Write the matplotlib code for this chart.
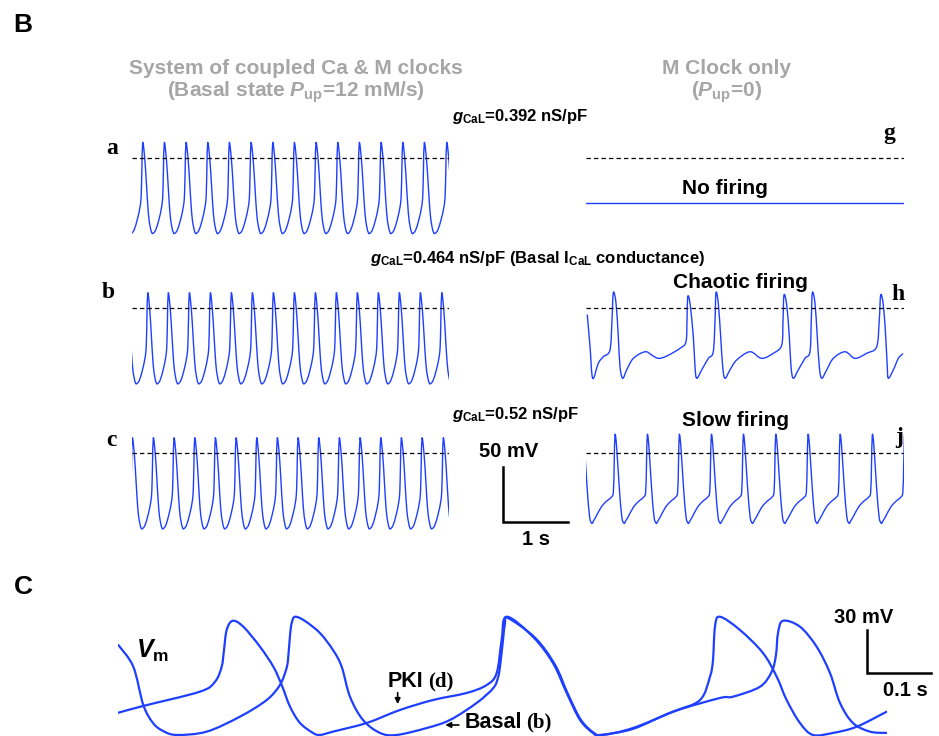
import numpy as np
import matplotlib
matplotlib.use("Agg")
import matplotlib.pyplot as plt
from matplotlib.path import Path
from matplotlib.patches import PathPatch

plt.rcParams["font.family"] = ["Liberation Sans", "DejaVu Sans"]
plt.rcParams["font.weight"] = "bold"
plt.rcParams["mathtext.fontset"] = "custom"
plt.rcParams["mathtext.rm"] = "Liberation Sans:bold"
plt.rcParams["mathtext.it"] = "Liberation Sans:bold:italic"
plt.rcParams["mathtext.bf"] = "Liberation Sans:bold"

# ─── DATA ─────────────────────────────────────────────────────────────────────
# spike peak times (s) for the periodic traces
PEAKS_A = [0.165, 0.497, 0.831, 1.165, 1.497, 1.831, 2.165, 2.497, 2.831,
           3.165, 3.497, 3.831, 4.165, 4.497, 4.842]
PEAKS_B = [0.242, 0.558, 0.882, 1.205, 1.528, 1.851, 2.174, 2.497, 2.820,
           3.143, 3.466, 3.789, 4.112, 4.435, 4.765]
PEAKS_C = [0.005, 0.328, 0.646, 0.965, 1.282, 1.600, 1.918, 2.235, 2.554,
           2.872, 3.189, 3.508, 3.826, 4.143, 4.462, 4.789]
PEAKS_J = [0.446, 0.943, 1.435, 1.928, 2.420, 2.918, 3.415, 3.908, 4.405]

# one cycle of the AP (phase from peak to next peak, mV)
LEFT_PHASE = [0.0, 0.10, 0.18, 0.26, 0.34, 0.42, 0.48, 0.60, 0.75, 0.88, 0.93, 0.96, 1.0]
LEFT_MV    = [14, -2, -26, -50, -62, -68, -68.5, -65.5, -56, -44, -33.6, -11, 14]
J_PHASE = [0.0, 0.05, 0.13, 0.21, 0.28, 0.34, 0.41, 0.57, 0.72, 0.88, 0.95, 0.975, 1.0]
J_MV    = [16.6, 6, -30, -57.6, -63.6, -61, -57.6, -49, -44, -40, -35, -10, 16.6]

# chaotic firing (M clock only, basal gCaL)
H_T = [0.020, 0.062, 0.103, 0.189, 0.266, 0.369, 0.400, 0.420, 0.462, 0.497, 0.523,
       0.565, 0.626, 0.728, 0.908, 1.011, 1.112, 1.242, 1.446, 1.538, 1.554, 1.565,
       1.600, 1.651, 1.677, 1.703, 1.780, 1.882, 1.958, 1.985, 2.000, 2.035, 2.072,
       2.103, 2.138, 2.215, 2.318, 2.523, 2.703, 2.882, 3.011, 3.031, 3.046, 3.088,
       3.128, 3.154, 3.189, 3.266, 3.369, 3.446, 3.466, 3.482, 3.523, 3.558, 3.589,
       3.626, 3.703, 3.805, 3.985, 4.138, 4.318, 4.472, 4.512, 4.534, 4.574, 4.611,
       4.635, 4.651, 4.728, 4.805, 4.872]
H_MV = [-6.1, -34.9, -63.6, -50, -44, -37.9, -10.6, 14.2, 4.5, -25.8, -53,
        -63.6, -56, -45.5, -39.5, -42.5, -45.5, -43.4, -36.4, -30.4, -10.6, 10.5,
        4.5, -25.8, -53, -63.6, -56, -45.5, -39.5, -10.6, 14.2, 4.5, -25.8,
        -53, -63.6, -56, -47, -39.5, -45.5, -40.9, -33.4, -10.6, 12.1, 3,
        -25.8, -53, -63.6, -56, -45.5, -39.5, -10.6, 14.2, 4.5, -25.8, -53,
        -63.6, -56, -45.5, -39.5, -45.5, -40.9, -34.9, -10.6, 12.1, 3, -25.8,
        -53, -63.6, -56, -45.5, -41.5]

# no firing
G_T = [0.0, 4.892]
G_MV = [-41, -41]

# panel C: basal vs PKI (ms, mV)
BASAL_MS = [0.5, 23.9, 39.5, 54.7, 70.3, 91.7, 138.6, 190.6, 232.3, 253, 262.5, 265.6,
            268.8, 271.4, 276.6, 292, 315.6, 336, 349.5, 362.5, 382.8, 409.4, 435.5,
            482.3, 518.8, 560.5, 586.4, 593.8, 596.9, 601.6, 604.7, 609.4, 652, 683,
            703, 723.4, 743.8, 757.8, 804.7, 867.2, 909.4, 925, 929.7, 932.8, 940.6,
            971.9, 1007.8, 1029.2, 1044.8, 1065.6, 1085.9, 1117.2, 1154.2, 1201]
BASAL_MV = [-2.7, -17.7, -44.2, -56.7, -62.2, -65, -62.7, -52.3, -40.8, -30.4, -20, -13.1,
            4.2, 12.5, 16.9, 14, 5.6, -6.2, -17.7, -38.5, -54.6, -63.6, -65,
            -60.2, -54.6, -42.8, -32.5, -25.2, -17.7, 0.8, 12.5, 16, 2.2, -16.5,
            -36.6, -54.6, -63.6, -65, -60.2, -48.9, -40.8, -24.6, -13.1, 10, 16.9,
            7.7, -8.2, -24.6, -40.8, -56.7, -65, -63.6, -59.3, -48.9]
PKI_MS = [0.5, 39.5, 128.1, 151.6, 162, 165.6, 169.8, 179.2, 195.8, 221.9, 242.7, 255.8,
          268.8, 284.4, 304.7, 315.6, 336, 388.6, 440.6, 492.2, 544.8, 576.1, 591.7,
          599.5, 607.3, 648.4, 679.7, 701.1, 721.9, 742.2, 753.1, 804.7, 867.2, 940.6,
          960.9, 1003.1, 1021.4, 1028.1, 1031.3, 1039.1, 1065.6, 1091.7, 1112.5, 1128.1,
          1148.4, 1175, 1201]
PKI_MV = [-49.6, -44.9, -35, -28.1, -17.7, -6.2, 7.7, 14.1, 10, -3.9, -17.7, -30.4,
          -45.4, -56.7, -63.6, -65, -62.7, -56.7, -47.7, -40.8, -35.9, -30.4, -22.1,
          0.8, 16.9, 3, -15.2, -35.9, -54.6, -63.6, -65, -60.8, -48.9, -39.4,
          -38.5, -31.6, -21.2, -9.6, 5.6, 14.1, 10, -3.9, -22.1, -42.8,
          -56.7, -62.7, -63.6]

BLUE = "#1f3fff"
GRAY = "#a6a6a6"
W, H = 939, 736


def px_axes(fig, x0, x1, y0, y1):
    ax = fig.add_axes([x0 / W, 1 - y1 / H, (x1 - x0) / W, (y1 - y0) / H])
    ax.set_axis_off()
    return ax


def spike_train(peaks, phase, volts):
    peaks = np.asarray(peaks, float)
    per = np.diff(peaks).mean()
    edges = np.concatenate([[peaks[0] - per], peaks, [peaks[-1] + per]])
    t, v = [], []
    for a, b in zip(edges[:-1], edges[1:]):
        t.extend(a + np.asarray(phase[:-1]) * (b - a))
        v.extend(volts[:-1])
    t.append(edges[-1])
    v.append(volts[-1])
    return np.array(t), np.array(v)


def smooth_line(ax, x, y, **kw):
    # Catmull-Rom drawn as bezier path: passes through every read point
    p = np.column_stack([x, y]).astype(float)
    verts, codes = [p[0]], [Path.MOVETO]
    for i in range(len(p) - 1):
        p0 = p[i - 1] if i > 0 else p[i]
        p3 = p[i + 2] if i + 2 < len(p) else p[i + 1]
        verts += [p[i] + (p[i + 1] - p0) / 6, p[i + 1] - (p3 - p[i]) / 6, p[i + 1]]
        codes += [Path.CURVE4] * 3
    ax.add_patch(PathPatch(Path(verts, codes), fill=False, capstyle="round",
                           joinstyle="round", **kw))


def trace_axes(fig, x0, x1, y_zero):
    # 65 px per s, 1.1 px per mV, dashed line at 0 mV
    ax = px_axes(fig, x0, x1, y_zero - 30 * 1.1, y_zero + 80 * 1.1)
    ax.set_xlim(0, (x1 - x0) / 65)
    ax.set_ylim(-80, 30)
    ax.axhline(0, color="black", lw=0.9, ls=(0, (3.5, 2.5)))
    return ax


fig = plt.figure(figsize=(W / 100, H / 100), dpi=100)

def ftext(x, y, s, **kw):
    kw.setdefault("ha", "center")
    kw.setdefault("va", "center")
    fig.text(x / W, 1 - y / H, s, **kw)

# ─── Panel B ──────────────────────────────────────────────────────────────────
ftext(23, 25, "B", fontsize=19)
ftext(296, 68, "System of coupled Ca & M clocks", fontsize=15, color=GRAY)
ftext(296, 92, r"(Basal state $P_{\mathrm{up}}$=12 mM/s)", fontsize=15, color=GRAY)
ftext(727, 68, "M Clock only", fontsize=15, color=GRAY)
ftext(727, 92, r"($P_{\mathrm{up}}$=0)", fontsize=15, color=GRAY)

ftext(452, 116, r"$g_{\mathrm{CaL}}$=0.392 nS/pF", fontsize=12, ha="left")
ftext(370, 259, r"$g_{\mathrm{CaL}}$=0.464 nS/pF (Basal I$_{\mathrm{CaL}}$ conductance)",
      fontsize=12, ha="left")
ftext(452, 415, r"$g_{\mathrm{CaL}}$=0.52 nS/pF", fontsize=12, ha="left")

ftext(725, 188, "No firing", fontsize=15)
ftext(740, 283, "Chaotic firing", fontsize=15)
ftext(735, 420, "Slow firing", fontsize=15)

serif = dict(family="Liberation Serif", fontsize=17, fontweight="bold")
ftext(112, 148, "a", **serif)
ftext(108, 293, "b", **serif)
ftext(111, 440, "c", **serif)
ftext(889, 134, "g", **serif)
ftext(898, 295, "h", **serif)
ftext(899, 437, "j", **serif)

lw_top = 1.0
ax_a = trace_axes(fig, 132, 449, 158)
smooth_line(ax_a, *spike_train(PEAKS_A, LEFT_PHASE, LEFT_MV), color=BLUE, lw=lw_top)

ax_b = trace_axes(fig, 132, 449, 308.3)
smooth_line(ax_b, *spike_train(PEAKS_B, LEFT_PHASE, LEFT_MV), color=BLUE, lw=lw_top)

ax_c = trace_axes(fig, 132, 449, 453.3)
smooth_line(ax_c, *spike_train(PEAKS_C, LEFT_PHASE, LEFT_MV), color=BLUE, lw=lw_top)

ax_g = trace_axes(fig, 586, 904, 158)
ax_g.plot(G_T, G_MV, color=BLUE, lw=lw_top)

ax_h = trace_axes(fig, 586, 904, 308.3)
smooth_line(ax_h, H_T, H_MV, color=BLUE, lw=lw_top)

ax_j = trace_axes(fig, 586, 904, 453.3)
smooth_line(ax_j, *spike_train(PEAKS_J, J_PHASE, J_MV), color=BLUE, lw=lw_top)

# scale bar 50 mV / 1 s
ax_c.plot([5.708, 5.708, 6.708], [-12.5, -62.5, -62.5], color="black", lw=1.8,
          clip_on=False, solid_joinstyle="miter")
ax_c.text(5.8, 1.2, "50 mV", fontsize=14.5, ha="center", va="center")
ax_c.text(6.215, -78.8, "1 s", fontsize=14.5, ha="center", va="center")

# ─── Panel C ──────────────────────────────────────────────────────────────────
ftext(23, 587, "C", fontsize=19)
axC = px_axes(fig, 118, 887, 600, 740)
axC.set_xlim(0, 1201.6)
axC.set_ylim(-68.5, 28.5)
smooth_line(axC, BASAL_MS, BASAL_MV, color=BLUE, lw=1.6)
smooth_line(axC, PKI_MS, PKI_MV, color=BLUE, lw=1.6)

axC.text(28, -11.7, r"$V_{\mathrm{m}}$", fontsize=18, ha="left", va="baseline")
axC.text(421, -28.3, "PKI", fontsize=15.5, ha="left", va="center")
axC.text(485, -28.3, "(d)", family="Liberation Serif", fontsize=15, fontweight="bold",
         ha="left", va="center")
axC.text(542, -56.5, "Basal", fontsize=15.5, ha="left", va="center")
axC.text(638, -56.5, "(b)", family="Liberation Serif", fontsize=15, fontweight="bold",
         ha="left", va="center")
axC.annotate("", xy=(437, -45.5), xytext=(437, -33.8),
             arrowprops=dict(arrowstyle="-|>", color="black", lw=1.2, mutation_scale=8))
axC.annotate("", xy=(507, -58.1), xytext=(537, -58.1),
             arrowprops=dict(arrowstyle="-|>", color="black", lw=1.2, mutation_scale=8))

# scale bar 30 mV / 0.1 s
axC.plot([1169.8, 1169.8, 1269.8], [7.7, -22.3, -22.3], color="black", lw=1.8,
         clip_on=False, solid_joinstyle="miter")
axC.text(1165.6, 16.7, "30 mV", fontsize=14.5, ha="center", va="center")
axC.text(1230.5, -34.5, "0.1 s", fontsize=14.5, ha="center", va="center")

fig.savefig("out.png", dpi=100)
